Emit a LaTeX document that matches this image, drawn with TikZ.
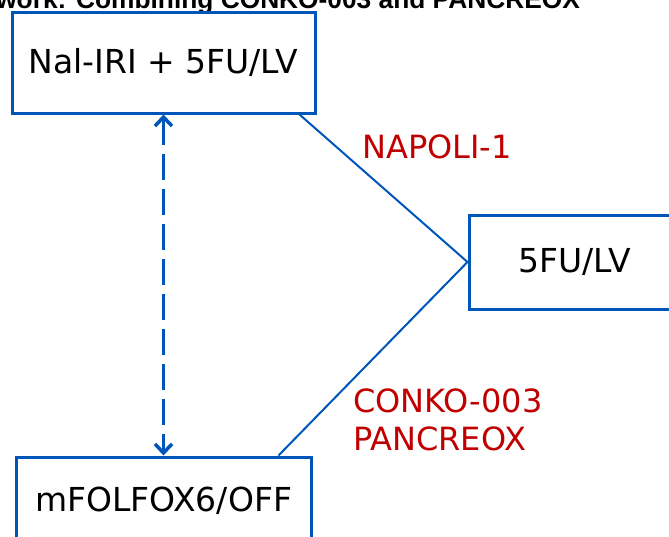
\documentclass[tikz,border=0pt]{standalone}
\usepackage{fontspec}
\usetikzlibrary{arrows.meta}
\newfontfamily\boxfont{DejaVu Sans}
\newfontfamily\headfont{Liberation Sans}
\definecolor{TrialBlue}{HTML}{0055B8}
\definecolor{TrialRed}{HTML}{C00000}
\tikzset{
  armbox/.style={draw=TrialBlue, line width=3pt, rectangle, inner sep=0pt,
    font=\boxfont\fontsize{33}{38}\selectfont},
  trial/.style={TrialRed, inner sep=0pt, font=\boxfont\fontsize{32}{38}\selectfont},
}

\begin{document}
\begin{tikzpicture}[x=1pt, y=-1pt]
    \useasboundingbox (0,0) rectangle (669,536);
    \clip (0,0) rectangle (669,536);

    % Cut-off heading at the top
    \node[anchor=base east, inner sep=0pt, font=\headfont\bfseries\fontsize{26.3}{30}\selectfont] (head) at (580, 8) {work: Combining CONKO-003 and PANCREOX};

    % Treatment arms
    \node[armbox, minimum width=303pt, minimum height=101pt] (nal) at (163.5, 62.5) {Nal-IRI + 5FU/LV};
    \node[armbox, minimum width=212pt, minimum height=94pt] (fulv) at (575, 262) {5FU/LV};
    \node[armbox, minimum width=295pt, minimum height=88pt] (folfox) at (163.5, 501) {mFOLFOX6/OFF};

    % Trial connections
    \draw[TrialBlue, line width=2pt] ([xshift=-17pt]nal.south east) -- (fulv.west);
    \draw[TrialBlue, line width=2pt] ([xshift=-34pt]folfox.north east) -- (fulv.west);

    % Indirect comparison (dashed, both ways)
    \draw[TrialBlue, line width=3.5pt, dash pattern=on 26pt off 9pt,
      {Straight Barb[length=9pt,width=17pt]}-{Straight Barb[length=9pt,width=17pt]}] (nal.south) -- (folfox.north);

    % Trial names
    \node[trial, anchor=base west] (napoli) at (362, 158) {NAPOLI-1};
    \node[trial, anchor=base west] (conko) at (353, 412) {CONKO-003};
    \node[trial, anchor=base west] (pancreox) at (353, 450) {PANCREOX};
\end{tikzpicture}
\end{document}
